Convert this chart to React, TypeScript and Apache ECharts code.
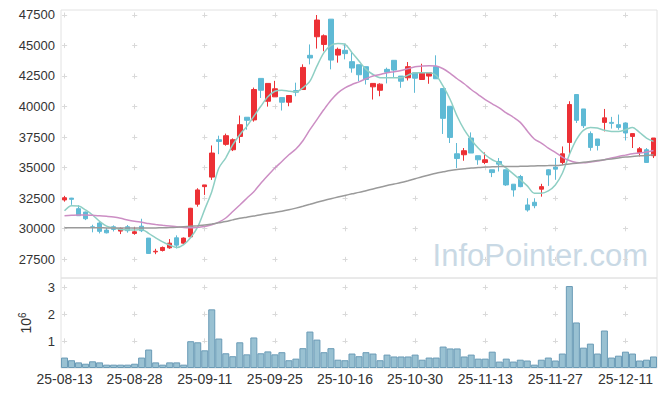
import React, { useEffect, useRef } from 'react';
import * as echarts from 'echarts';

const dates = [
  '25-08-13','25-08-14','25-08-18','25-08-19','25-08-20','25-08-21','25-08-22','25-08-25','25-08-26','25-08-27',
  '25-08-28','25-08-29','25-09-01','25-09-02','25-09-03','25-09-04','25-09-05','25-09-08','25-09-09','25-09-10',
  '25-09-11','25-09-12','25-09-15','25-09-16','25-09-17','25-09-18','25-09-19','25-09-22','25-09-23','25-09-24',
  '25-09-25','25-09-26','25-09-29','25-09-30','25-10-01','25-10-02','25-10-10','25-10-13','25-10-14','25-10-15',
  '25-10-16','25-10-17','25-10-20','25-10-21','25-10-22','25-10-23','25-10-24','25-10-27','25-10-28','25-10-29',
  '25-10-30','25-10-31','25-11-03','25-11-04','25-11-05','25-11-06','25-11-07','25-11-10','25-11-11','25-11-12',
  '25-11-13','25-11-14','25-11-17','25-11-18','25-11-19','25-11-20','25-11-21','25-11-24','25-11-25','25-11-26',
  '25-11-27','25-11-28','25-12-01','25-12-02','25-12-03','25-12-04','25-12-05','25-12-08','25-12-09','25-12-10',
  '25-12-11','25-12-12','25-12-15','25-12-16','25-12-17'
];

const opens = [
  32350,32500,31635,31360,30150,30460,29880,30155,29800,30155,
  29610,30200,29226,28100,28215,28430,29250,28815,29330,32000,
  33440,34220,37280,36900,36460,37550,39120,38900,42300,40430,
  40790,40730,40350,41300,41390,44190,45710,45080,47150,44210,
  44600,43670,43420,43260,41610,41330,43040,43780,42490,42350,
  42760,42210,42490,43260,41470,40020,36130,36050,37420,35970,
  35420,34820,35500,34820,33640,34270,31940,32160,33230,34820,
  35040,35420,37060,40980,39800,37780,37340,38700,38700,38510,
  38650,37550,36240,36460,35970
];
const closes = [
  32530,32400,31060,30810,30100,29780,29660,29940,30020,29830,
  29745,29830,27970,28150,28460,28815,28650,29226,31670,33170,
  33580,36190,37140,37610,37280,38510,38870,41390,41330,41890,
  41450,40350,40900,41170,43200,43970,47080,45790,43800,44680,
  44330,43150,42600,42210,41890,41830,42810,42980,42070,43260,
  42320,42760,42760,42270,39030,37470,35740,36380,36190,35640,
  35640,34590,35280,33580,33170,33440,31530,31880,33440,34400,
  34870,36130,40160,38870,38430,36650,36810,39070,38620,38290,
  37830,37780,36540,35420,37420
];
const lows = [
  32210,31950,31060,30700,29700,29610,29610,29770,29555,29670,
  29500,29720,27940,27910,28130,28350,28380,28730,29280,31800,
  32760,33990,36100,36790,36350,37010,38100,38760,40700,39990,
  40790,39670,40020,40840,41390,43450,44740,44520,43040,43590,
  43860,42770,42070,41800,40570,40840,41890,42350,41530,42130,
  41120,42210,41860,42270,37750,37010,34960,35560,36190,35230,
  35280,34220,34680,33500,32620,33390,31390,31670,32620,33500,
  34000,35230,36050,38650,38240,36380,36400,37960,38190,38100,
  37220,36600,35910,35380,35780
];
const highs = [
  32680,32520,31915,31400,30320,30570,30050,30270,30100,30300,
  30130,30810,29226,28350,28540,29144,29450,29280,31700,33310,
  33580,36810,37610,37780,37390,39260,39120,41550,42300,41890,
  42100,40730,40900,41950,43450,45080,47490,45900,47150,44820,
  45150,44460,43420,43260,41890,41900,43180,43780,42490,43640,
  42760,43500,42760,44190,41470,40020,37010,36600,37880,35970,
  36240,34820,35780,34820,33640,34400,32490,32490,33670,34870,
  35780,36730,40430,40980,39800,37960,37340,39800,39150,39340,
  38700,37780,36680,36600,37420
];

const ma5 = [
  31470,31880,31860,31530,31120,30600,30210,30050,29940,29910,
  29880,29940,29610,29250,28920,28650,28460,28700,29280,30150,
  31580,33030,34950,35800,36870,37690,38370,39200,40020,40790,
  41250,41330,41250,41200,41530,42070,43310,44410,45010,45150,
  45090,44410,43720,43040,42620,42350,42350,42350,42350,42570,
  42760,42760,42760,42540,41660,40570,39200,38100,37280,36600,
  36050,35640,35370,34960,34490,34000,33500,32900,32900,33090,
  33580,34540,36050,37280,38050,38290,38240,38050,37960,37960,
  38100,38290,37880,37420,37140
];
const ma20 = [
  31060,31090,31120,31120,31090,31060,31010,30950,30850,30710,
  30600,30520,30420,30340,30270,30210,30160,30090,30070,30110,
  30170,30320,30540,30870,31400,31940,32490,33030,33720,34350,
  34960,35500,36050,36520,37200,38100,38930,39750,40510,41120,
  41530,41800,42020,42270,42490,42620,42760,42850,42950,43100,
  43260,43310,43340,43310,43090,42710,42270,41860,41390,40980,
  40570,40220,39890,39480,39120,38700,38000,37340,37010,36600,
  36240,35860,35580,35420,35390,35450,35530,35640,35780,35910,
  36020,36130,36190,36270,36400
];
const ma60 = [
  30070,30070,30070,30070,30070,30070,30060,30060,30060,30050,
  30050,30050,30050,30060,30070,30090,30120,30160,30200,30240,
  30290,30380,30480,30580,30720,30850,30940,31030,31140,31240,
  31330,31420,31540,31680,31830,31990,32160,32310,32450,32590,
  32720,32850,32970,33110,33250,33390,33530,33650,33770,33920,
  34080,34250,34400,34540,34650,34760,34840,34900,34960,35000,
  35040,35060,35080,35090,35090,35100,35110,35130,35150,35160,
  35170,35220,35290,35360,35430,35500,35570,35640,35710,35790,
  35860,35910,35960,35990,36050
];

const volumes = [
  390000,290000,210000,160000,250000,210000,125000,125000,125000,125000,
  160000,390000,690000,210000,125000,210000,210000,125000,1000000,960000,
  660000,2190000,1100000,550000,440000,960000,510000,1140000,550000,620000,
  510000,590000,290000,350000,740000,1360000,1060000,590000,740000,310000,
  290000,540000,440000,590000,540000,290000,500000,430000,430000,430000,
  500000,310000,390000,390000,800000,730000,730000,430000,500000,350000,
  350000,610000,240000,350000,240000,310000,280000,125000,310000,390000,
  280000,540000,3060000,1700000,760000,910000,540000,1400000,390000,460000,
  610000,540000,280000,310000,430000
];

const priceTicks = [27500, 30000, 32500, 35000, 37500, 40000, 42500, 45000, 47500];
const volumeTicks = [1000000, 2000000, 3000000];

const RED = '#ec3035';
const BLUE = '#5fbad5';
const FONT = '"Liberation Sans", Arial, sans-serif';

export default function App() {
  const ref = useRef<HTMLDivElement>(null);

  useEffect(() => {
    const chart = echarts.init(ref.current as HTMLDivElement, null, { renderer: 'svg' });

    const W = 665;
    const left = 61;
    const right = 8;
    const gridW = W - left - right;
    const catW = gridW / dates.length;
    const xPeriod = catW * 10;

    const priceTop = 10;
    const priceH = 268;
    const priceMin = 25960;
    const priceMax = 47900;
    const volTop = 278;
    const volH = 90;
    const volMax = 3360000;

    const dashLen = 5;
    const gridColor = '#d9d9d9';

    const pStep = (2500 / (priceMax - priceMin)) * priceH;
    const pFirst = ((priceMax - priceTicks[priceTicks.length - 1]) / (priceMax - priceMin)) * priceH;
    const vStep = (1000000 / volMax) * volH;
    const vFirst = ((volMax - volumeTicks[volumeTicks.length - 1]) / volMax) * volH;

    const hLine = {
      color: gridColor,
      width: 1,
      type: [dashLen, xPeriod - dashLen],
      dashOffset: xPeriod - (catW / 2 - dashLen / 2),
    };
    const vLinePrice = {
      color: gridColor,
      width: 1,
      type: [dashLen, pStep - dashLen],
      dashOffset: pStep - (pFirst - dashLen / 2),
    };
    const vLineVol = {
      color: gridColor,
      width: 1,
      type: [dashLen, vStep - dashLen],
      dashOffset: vStep - (vFirst - dashLen / 2),
    };

    const candles = dates.map((_, i) => [opens[i], closes[i], lows[i], highs[i]]);

    const option: any = {
      animation: false,
      backgroundColor: '#ffffff',
      grid: [
        { left, right, top: priceTop, height: priceH, show: true, borderColor: '#e2e2e2', borderWidth: 1, outerBoundsMode: 'none' },
        { left, right, top: volTop, height: volH, show: true, borderColor: '#e2e2e2', borderWidth: 1, outerBoundsMode: 'none' },
      ],
      graphic: [
        {
          type: 'text',
          right: 17,
          top: 240,
          z: 0,
          silent: true,
          style: {
            text: 'InfoPointer.com',
            font: '31px ' + FONT,
            fill: '#c9d9e5',
          },
        },
      ],
      xAxis: [
        {
          type: 'category',
          gridIndex: 0,
          data: dates,
          boundaryGap: true,
          axisLine: { show: false },
          axisTick: { show: false, alignWithLabel: true },
          axisLabel: { show: false, interval: 9 },
          splitLine: { show: true, interval: 9, alignWithLabel: true, lineStyle: vLinePrice },
        },
        {
          type: 'category',
          gridIndex: 1,
          data: dates,
          boundaryGap: true,
          axisLine: { show: false },
          axisTick: { show: false, alignWithLabel: true },
          axisLabel: { interval: 9, color: '#333', fontSize: 14, fontFamily: FONT, margin: 4 },
          splitLine: { show: true, interval: 9, alignWithLabel: true, lineStyle: vLineVol },
        },
      ],
      yAxis: [
        {
          type: 'value',
          gridIndex: 0,
          min: priceMin,
          max: priceMax,
          axisLine: { show: false },
          axisTick: { show: false, customValues: priceTicks },
          axisLabel: {
            customValues: priceTicks,
            color: '#333',
            fontSize: 13,
            fontFamily: FONT,
            margin: 6,
            formatter: (v: number) => String(v),
          },
          splitLine: { show: true, lineStyle: hLine },
        },
        {
          type: 'value',
          gridIndex: 1,
          min: 0,
          max: volMax,
          axisLine: { show: false },
          axisTick: { show: false, customValues: volumeTicks },
          axisLabel: {
            customValues: volumeTicks,
            color: '#333',
            fontSize: 13,
            fontFamily: FONT,
            margin: 6,
            formatter: (v: number) => String(Math.round(v / 1000000)),
          },
          splitLine: { show: true, lineStyle: hLine },
          name: '10{sup|6}',
          nameLocation: 'middle',
          nameGap: 26,
          nameRotate: 90,
          nameTextStyle: {
            color: '#333',
            fontSize: 14,
            fontFamily: FONT,
            rich: {
              sup: { fontSize: 10, fontFamily: FONT, color: '#333', padding: [0, 0, 8, 0] },
            },
          },
        },
      ],
      series: [
        {
          type: 'candlestick',
          xAxisIndex: 0,
          yAxisIndex: 0,
          data: candles,
          barWidth: 5,
          itemStyle: {
            color: RED,
            color0: BLUE,
            borderColor: RED,
            borderColor0: BLUE,
            borderWidth: 1,
          },
        },
        {
          type: 'line',
          xAxisIndex: 0,
          yAxisIndex: 0,
          data: ma5,
          symbol: 'none',
          smooth: 0.3,
          lineStyle: { color: '#8fcfc4', width: 1.5 },
        },
        {
          type: 'line',
          xAxisIndex: 0,
          yAxisIndex: 0,
          data: ma20,
          symbol: 'none',
          smooth: 0.3,
          lineStyle: { color: '#cc8ec4', width: 1.5 },
        },
        {
          type: 'line',
          xAxisIndex: 0,
          yAxisIndex: 0,
          data: ma60,
          symbol: 'none',
          smooth: 0.3,
          lineStyle: { color: '#9a9a9a', width: 1.5 },
        },
        {
          type: 'bar',
          xAxisIndex: 1,
          yAxisIndex: 1,
          data: volumes,
          barCategoryGap: '0%',
          itemStyle: { color: '#99c1d2', borderColor: '#6a9bb6', borderWidth: 1 },
        },
      ],
    };

    chart.setOption(option);
    return () => {
      chart.dispose();
    };
  }, []);

  return (
    <div
      ref={ref}
      style={{ position: 'absolute', left: 0, top: 0, width: 665, height: 396, background: '#fff' }}
    />
  );
}
